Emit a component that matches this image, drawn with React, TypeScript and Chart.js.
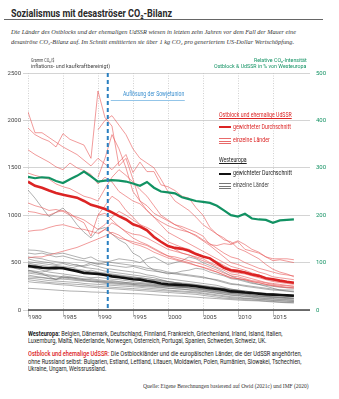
import React, { useEffect, useRef } from "react";
import { Chart, registerables } from "chart.js";
Chart.register(...registerables);

const years = [1980,1981,1982,1983,1984,1985,1986,1987,1988,1989,1990,1991,1992,1993,1994,1995,1996,1997,1998,1999,2000,2001,2002,2003,2004,2005,2006,2007,2008,2009,2010,2011,2012,2013,2014,2015,2016,2017,2018];
const gridYears = [1980,1985,1990,1995,2000,2005,2010,2015];
const dissolutionYear = 1991.4;

const relIntensity = [281,278,280,279,272,268,276,283,292,282, 271,273,274,273,271,267,262,270,258,250, 248,246,238,234,230,228,226,220,210,200, 197,203,193,191,190,184,189,190,191];
const eastAvg = [1354,1310,1290,1260,1235,1215,1200,1185,1150,1110, 1090,1065,1030,990,955,905,880,840,770,720, 675,655,645,625,590,565,545,495,445,420, 410,395,375,360,335,325,310,298,288];
const westAvg = [465,455,445,440,445,440,425,410,390,385, 380,370,355,345,335,325,320,305,295,280, 270,268,262,258,250,240,230,222,212,196, 192,185,180,172,165,162,158,154,150];

const N = null;
const eastCountries: (number | null)[][] = [
  [2090,1870,1870,1820,1770,1720,1680,1640,1580,1520, 1600,1540,1480,1560,1640,1450,1560,1460,1460,1320, 1300,1260,1200,1180,1080,1000,870,800,760,700, 730,690,640,610,560,520,530,515,500],
  [1920,1850,1810,1780,1720,1860,1800,1770,1740,1600, 2310,2030,1940,1520,1600,1380,1150,1100,1020,980, 940,900,880,850,820,780,690,680,700,690, 720,640,620,600,560,540,540,540,530],
  [1690,1640,1600,1560,1510,1480,1550,1500,1470,1430, 1330,1400,1350,1250,1200,1150,1120,1050,980,930, 890,860,840,820,790,740,700,650,600,560, 540,500,470,440,420,400,380,370,360],
  [1445,1420,1400,1380,1330,1300,1280,1240,1200,1180, 1150,1280,1400,1480,1420,1350,1270,1200,1100,1000, 950,900,860,820,780,730,680,620,560,500, 480,450,430,400,380,350,340,330,320],
  [1130,1100,1080,1050,1060,1040,1000,980,950,900, 850,900,980,1040,1000,950,900,870,830,780, 720,690,660,640,600,570,540,510,470,430, 420,400,380,360,330,310,300,290,280],
  [1040,1030,1010,1000,1030,1050,1020,960,920,780, 1000,1020,950,880,830,800,790,760,720,680, 640,620,600,580,560,540,500,470,440,400, 390,380,360,340,320,300,290,280,270],
  [830,840,845,870,890,900,880,860,850,830, 810,850,800,760,740,720,700,680,640,600, 570,560,540,520,500,480,450,420,390,360, 350,330,310,300,285,270,260,255,250],
  [550,560,560,580,600,620,640,660,690,720, 750,780,820,790,740,700,680,650,610,580, 550,530,510,490,470,450,420,400,370,340, 330,320,300,290,270,260,250,240,235],
  [N,N,N,N,N,N,N,N,N,N, 1900,2000,2050,1950,1850,1700,1600,1550,1500,1380, 1250,1150,1100,1050,980,900,850,800,740,720, 650,620,580,540,480,430,400,380,350],
  [N,N,N,N,N,N,N,N,N,N, 1400,1600,1850,1700,1500,1250,1150,1050,980,900, 820,780,740,700,660,620,580,540,500,460, 440,420,390,370,340,320,310,300,290],
  [N,N,N,N,N,N,N,N,N,N, 1000,1100,1200,1150,1050,980,900,850,780,720, 680,640,600,580,550,520,490,450,420,380, 370,350,330,310,290,280,270,260,250],
  [N,N,N,N,N,N,N,N,N,N, 800,850,920,880,820,760,720,690,650,610, 570,540,520,500,470,450,430,400,370,340, 330,320,300,285,270,255,245,235,230],
];

const westCountries: number[][] = [
  [1266,1180,1080,985,1030,1076,1000,900,820,760, 850,870,800,740,700,600,560,470,420,400, 380,390,410,420,440,430,400,380,360,330, 320,300,280,270,260,250,240,235,232],
  [633,630,620,600,590,600,580,560,540,560, 520,510,500,490,480,470,460,440,430,420, 400,390,380,370,360,350,330,320,300,280, 270,260,250,240,230,220,215,212,211],
  [601,590,600,580,560,570,550,530,520,500, 490,480,470,460,450,460,440,420,410,400, 390,380,370,360,350,340,330,310,290,270, 265,250,240,230,220,210,205,200,195],
  [420,410,400,420,430,450,440,460,470,500, 480,500,520,540,530,520,500,540,560,520, 480,500,520,560,540,500,470,440,400,360, 330,310,290,270,250,230,210,200,190],
  [560,550,540,520,510,500,490,470,460,480, 460,440,430,420,410,400,390,370,360,340, 330,320,310,300,290,280,270,260,240,220, 210,200,190,180,175,170,165,160,158],
  [540,520,510,500,480,490,470,480,450,440, 430,410,400,390,380,370,360,350,340,320, 300,290,280,270,260,250,240,230,220,210, 205,195,185,175,170,165,160,155,150],
  [510,500,490,480,470,460,450,430,420,400, 390,380,370,360,350,345,340,330,320,310, 300,290,285,280,270,260,250,240,230,220, 210,200,190,180,175,170,165,160,155],
  [496,480,470,460,455,450,430,420,410,400, 395,380,370,360,350,340,330,320,310,300, 290,280,275,270,265,255,245,235,225,215, 205,195,185,180,170,165,160,155,150],
  [480,470,455,440,430,440,420,410,400,420, 400,390,380,370,360,350,340,330,320,315, 300,290,280,270,260,250,240,230,220,210, 200,190,185,178,170,160,155,150,145],
  [450,440,420,400,390,380,370,360,350,340, 345,335,325,320,310,300,290,285,275,265, 255,250,245,240,230,220,210,200,190,180, 175,170,160,150,145,140,135,130,125],
  [420,400,380,350,320,360,350,340,330,320, 310,300,310,300,290,280,275,270,260,255, 250,245,240,235,230,225,215,205,195,185, 180,170,160,150,145,140,135,130,125],
  [404,395,385,370,360,350,340,330,320,330, 320,310,300,295,290,285,280,275,270,260, 250,245,240,235,225,215,205,195,185,175, 170,160,150,145,140,135,130,125,120],
  [390,380,370,360,350,340,345,330,320,310, 300,295,290,285,280,270,265,260,255,250, 245,240,235,230,220,210,200,190,180,170, 165,155,145,140,135,130,125,120,115],
  [369,355,345,335,330,325,320,310,305,300, 290,280,275,270,265,260,250,245,240,235, 230,225,220,215,210,200,190,180,170,160, 155,145,140,130,125,120,115,110,105],
  [350,345,340,330,320,340,330,320,310,300, 300,290,285,280,275,270,260,255,250,240, 230,225,220,210,200,195,185,175,165,155, 150,140,135,125,120,115,110,105,100],
  [334,330,320,310,305,300,295,290,280,275, 270,265,260,255,250,245,240,230,225,220, 210,205,200,195,190,180,170,160,150,140, 135,125,120,115,110,105,100,95,90],
  [320,310,300,290,285,280,275,270,265,255, 250,245,240,235,230,225,220,215,210,205, 200,195,190,185,180,170,160,150,140,130, 125,120,115,110,105,100,95,92,90],
  [299,290,285,280,270,265,260,250,245,240, 235,230,225,220,215,210,205,200,195,190, 185,180,175,170,165,155,145,135,125,120, 115,110,105,100,95,90,85,80,78],
  [229,225,220,215,210,205,200,198,195,190, 188,185,180,178,175,172,170,165,160,155, 150,148,145,140,135,130,125,120,115,110, 105,100,98,95,90,85,80,76,74],
];

const leftTicks = [0, 500, 1000, 1500, 2000, 2500];
const rightTicks = [0, 100, 200, 300, 400, 500];

const RED = "#dc2424";
const GREEN = "#129263";
const BLUE = "#2a7fc0";
const SANS = "Roboto";
const SERIF = "'Liberation Serif'";

let mctx: CanvasRenderingContext2D | null = null;
function measure(text: string, font: string) {
  if (!mctx) mctx = document.createElement("canvas").getContext("2d");
  mctx!.font = font;
  return mctx!.measureText(text).width;
}

type Seg = { t: string; c?: string; w?: number; u?: boolean };
function Txt(p: { x: number; y: number; w: number; size: number; family?: string; italic?: boolean; segs: Seg[]; align?: "left" | "right"; color?: string }) {
  const fam = p.family || SANS;
  const st = p.italic ? "italic" : "normal";
  const total = p.segs.reduce((s, g) => s + measure(g.t, `${st} ${g.w || 400} ${p.size}px ${fam}`), 0);
  const sx = total > 0 ? p.w / total : 1;
  const left = p.align === "right" ? p.x - p.w : p.x;
  return (
    <div style={{ position: "absolute", left, top: p.y - p.size * 0.6, fontSize: p.size, lineHeight: `${p.size * 1.15}px`, fontFamily: fam, fontStyle: st, whiteSpace: "pre", transform: `scaleX(${sx})`, transformOrigin: "left top", color: p.color || "#222" }}>
      {p.segs.map((g, i) => (
        <span key={i} style={{ color: g.c, fontWeight: g.w || 400, textDecoration: g.u ? "underline" : "none" }}>{g.t}</span>
      ))}
    </div>
  );
}

function Bar(p: { x: number; y: number; w: number; h: number; c: string }) {
  return <div style={{ position: "absolute", left: p.x, top: p.y - p.h / 2, width: p.w, height: p.h, background: p.c }} />;
}

const overlay = {
  id: "overlay",
  beforeDatasetsDraw(chart: any) {
    const { ctx, chartArea, scales } = chart;
    ctx.save();
    ctx.strokeStyle = "#c4c4c4";
    ctx.lineWidth = 0.8;
    ctx.setLineDash([1, 1.5]);
    for (const yr of gridYears) {
      const px = Math.round(scales.x.getPixelForValue(yr)) + 0.5;
      ctx.beginPath();
      ctx.moveTo(px, chartArea.top);
      ctx.lineTo(px, chartArea.bottom);
      ctx.stroke();
    }
    ctx.setLineDash([]);
    ctx.strokeStyle = "#aaa";
    for (const yr of gridYears) {
      const px = Math.round(scales.x.getPixelForValue(yr)) + 0.5;
      ctx.beginPath();
      ctx.moveTo(px, chartArea.bottom);
      ctx.lineTo(px, chartArea.bottom + 7);
      ctx.stroke();
    }
    ctx.restore();
  },
  afterDatasetsDraw(chart: any) {
    const { ctx, chartArea, scales } = chart;
    ctx.save();
    ctx.strokeStyle = "#444";
    ctx.lineWidth = 1.6;
    ctx.beginPath();
    ctx.moveTo(chartArea.left, chartArea.bottom);
    ctx.lineTo(chartArea.right, chartArea.bottom);
    ctx.stroke();
    const dx = scales.x.getPixelForValue(dissolutionYear);
    ctx.strokeStyle = BLUE;
    ctx.lineWidth = 2;
    ctx.setLineDash([4, 3]);
    ctx.beginPath();
    ctx.moveTo(dx, chartArea.top);
    ctx.lineTo(dx, chartArea.bottom);
    ctx.stroke();
    ctx.setLineDash([]);
    ctx.strokeStyle = "#93c5e8";
    ctx.lineWidth = 1;
    const ay = Math.round(chartArea.top + 27) + 0.5;
    ctx.beginPath();
    ctx.moveTo(dx + 3, ay);
    ctx.lineTo(dx + 77, ay);
    ctx.stroke();
    ctx.restore();
  },
};

function ChartCanvas() {
  const ref = useRef<HTMLCanvasElement>(null);
  useEffect(() => {
    const pts = (arr: (number | null)[]) => years.map((yr, i) => ({ x: yr, y: arr[i] }));
    const datasets: any[] = [];
    datasets.push({ data: pts(relIntensity), yAxisID: "y2", borderColor: GREEN, borderWidth: 2.2 });
    datasets.push({ data: pts(eastAvg), yAxisID: "y", borderColor: RED, borderWidth: 2.6 });
    datasets.push({ data: pts(westAvg), yAxisID: "y", borderColor: "#111", borderWidth: 2.6 });
    for (const c of eastCountries) datasets.push({ data: pts(c), yAxisID: "y", borderColor: "rgba(232,88,88,0.8)", borderWidth: 0.75 });
    for (const c of westCountries) datasets.push({ data: pts(c), yAxisID: "y", borderColor: "rgba(105,105,105,0.8)", borderWidth: 0.65 });
    datasets.forEach((d) => { d.pointRadius = 0; d.tension = 0; d.spanGaps = false; d.fill = false; });
    const tickFont = { family: SANS, size: 6 };
    const chart = new Chart(ref.current!, {
      type: "line",
      data: { datasets },
      plugins: [overlay],
      options: {
        animation: false,
        responsive: false,
        devicePixelRatio: 1,
        events: [],
        layout: { padding: { top: 23, left: 0, right: 0, bottom: 0 }, autoPadding: false } as any,
        plugins: { legend: { display: false }, tooltip: { enabled: false } },
        scales: {
          x: {
            type: "linear",
            min: 1980,
            max: 2020.3,
            afterFit: (s: any) => { s.height = 15; },
            afterBuildTicks: (s: any) => { s.ticks = gridYears.map((v) => ({ value: v })); },
            ticks: { font: tickFont, color: "#444", labelOffset: 7, padding: 4, maxRotation: 0, autoSkip: false, callback: (v: any) => String(v) },
            grid: { display: false, drawTicks: false },
            border: { display: false },
          },
          y: {
            position: "left",
            min: 0,
            max: 2500,
            afterFit: (s: any) => { s.width = 28; },
            afterBuildTicks: (s: any) => { s.ticks = leftTicks.map((v) => ({ value: v })); },
            ticks: { font: tickFont, color: "#444", padding: 2, callback: (v: any) => String(v) },
            grid: { color: "#cfcfcf", lineWidth: 0.9, tickLength: 5 },
            border: { display: false },
          },
          y2: {
            position: "right",
            min: 0,
            max: 500,
            afterFit: (s: any) => { s.width = 29; },
            afterBuildTicks: (s: any) => { s.ticks = rightTicks.map((v) => ({ value: v })); },
            ticks: { font: tickFont, color: GREEN, padding: 6, callback: (v: any) => String(v) },
            grid: { display: false, drawTicks: false },
            border: { display: false },
          },
        },
      } as any,
    });
    return () => chart.destroy();
  }, []);
  return <canvas ref={ref} width={339} height={275} style={{ position: "absolute", left: 0, top: 50, width: 339, height: 275 }} />;
}

export default function App() {
  const lw = 12;
  const fs = 6.8;
  return (
    <div style={{ position: "absolute", left: 0, top: 0, width: 339, height: 399, background: "#fff", overflow: "hidden" }}>
      <Txt x={11} y={14.3} w={161} size={11.5} segs={[{ t: "Sozialismus mit desaströser CO₂-Bilanz", w: 700 }]} color="#2a2a2a" />
      <div style={{ position: "absolute", left: 4, top: 18.5, width: 319, height: 1.2, background: "#666" }} />
      <Txt x={11} y={32.3} w={285} size={7} family={SERIF} italic segs={[{ t: "Die Länder des Ostblocks und der ehemaligen UdSSR wiesen in letzten zehn Jahren vor dem Fall der Mauer eine" }]} color="#333" />
      <Txt x={11} y={41.7} w={283} size={7} family={SERIF} italic segs={[{ t: "desaströse CO₂-Bilanz auf. Im Schnitt emittierten sie über 1 kg CO₂ pro generiertem US-Dollar Wertschöpfung." }]} color="#333" />

      <ChartCanvas />

      <Txt x={31} y={60.5} w={23.3} size={6} segs={[{ t: "Gramm CO₂/$" }]} color="#444" />
      <Txt x={31} y={67} w={79} size={6} segs={[{ t: "inflations- und kaufkraftbereinigt)" }]} color="#444" />
      <Txt x={306.7} y={60.5} w={52.7} size={6} align="right" segs={[{ t: "Relative CO₂-Intensität" }]} color={GREEN} />
      <Txt x={306.7} y={67} w={92.4} size={6} align="right" segs={[{ t: "Ostblock & UdSSR in % von Westeuropa" }]} color={GREEN} />

      <Txt x={122.7} y={94.3} w={61.3} size={6.3} segs={[{ t: "Auflösung der Sowjetunion" }]} color="#3a8fcf" />

      <Txt x={219} y={115.7} w={72.7} size={6.3} segs={[{ t: "Ostblock und ehemalige UdSSR", u: true }]} color={RED} />
      <Bar x={219} y={127.3} w={lw} h={2.4} c={RED} />
      <Txt x={232.7} y={127.3} w={58} size={6.3} segs={[{ t: "gewichteter Durchschnitt" }]} color={RED} />
      <Bar x={219} y={138.3} w={lw} h={0.8} c="#e86a6a" />
      <Bar x={219} y={141} w={lw} h={0.8} c="#e86a6a" />
      <Bar x={219} y={143.7} w={lw} h={0.8} c="#e86a6a" />
      <Txt x={232.7} y={141} w={36.7} size={6.3} segs={[{ t: "einzelne Länder" }]} color={RED} />
      <Txt x={219} y={160.7} w={27.7} size={6.3} segs={[{ t: "Westeuropa", u: true }]} color="#222" />
      <Bar x={219} y={174} w={lw} h={2.4} c="#111" />
      <Txt x={232.7} y={174} w={59} size={6.3} segs={[{ t: "gewichteter Durchschnitt" }]} color="#222" />
      <Bar x={219} y={183.3} w={lw} h={0.8} c="#777" />
      <Bar x={219} y={186} w={lw} h={0.8} c="#777" />
      <Bar x={219} y={188.7} w={lw} h={0.8} c="#777" />
      <Txt x={232.7} y={186} w={36} size={6.3} segs={[{ t: "einzelne Länder" }]} color="#444" />

      <Txt x={28.3} y={335} w={254.4} size={fs} segs={[{ t: "Westeuropa:", w: 700 }, { t: " Belgien, Dänemark, Deutschland, Finnland, Frankreich, Griechenland, Irland, Island, Italien," }]} />
      <Txt x={28.3} y={342.3} w={238.4} size={fs} segs={[{ t: "Luxemburg, Malta, Niederlande, Norwegen, Österreich, Portugal, Spanien, Schweden, Schweiz, UK." }]} />
      <Txt x={28.3} y={355.3} w={273.7} size={fs} segs={[{ t: "Ostblock und ehemalige UdSSR:", c: RED, w: 500 }, { t: " Die Ostblockländer und die europäischen Länder, die der UdSSR angehörten," }]} />
      <Txt x={28.3} y={362.7} w={273.4} size={fs} segs={[{ t: "ohne Russland selbst: Bulgarien, Estland, Lettland, Litauen, Moldawien, Polen, Rumänien, Slowakei, Tschechien," }]} />
      <Txt x={28.3} y={370} w={78.4} size={fs} segs={[{ t: "Ukraine, Ungarn, Weissrussland." }]} />
      <Txt x={308.3} y={386} w={165.6} size={5.8} family={SERIF} align="right" segs={[{ t: "Quelle: Eigene Berechnungen basierend auf Owid (2021c) und IMF (2020)" }]} color="#333" />
    </div>
  );
}
